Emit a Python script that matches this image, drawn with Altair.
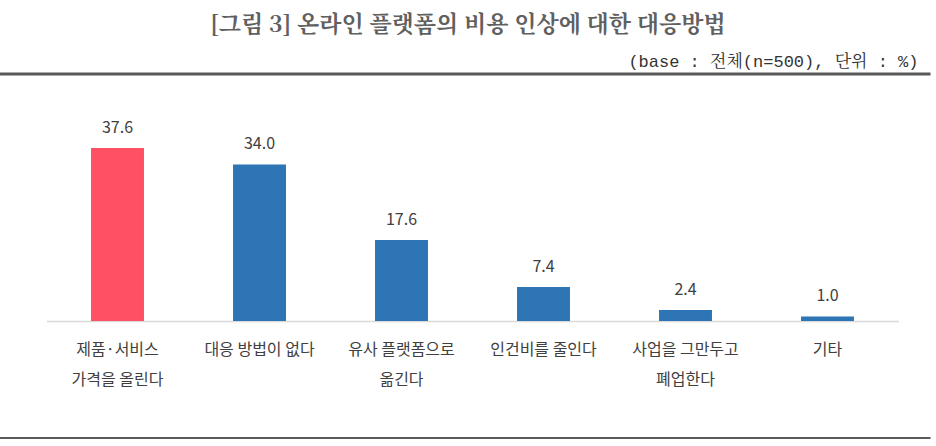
import altair as alt
import pandas as pd

categories = ["제품·서비스\n가격을 올린다", "대응 방법이 없다", "유사 플랫폼으로\n옮긴다",
              "인건비를 줄인다", "사업을 그만두고\n폐업한다", "기타"]
values = [37.6, 34.0, 17.6, 7.4, 2.4, 1.0]
highlight = [True, False, False, False, False, False]

title_text = "[그림 3] 온라인 플랫폼의 비용 인상에 대한 대응방법"
subtitle_text = "(base : 전체(n=500), 단위 : %)"

df = pd.DataFrame({"cat": categories, "val": values, "hl": highlight})

SANS = "Noto Sans CJK KR"
SERIF = "Noto Serif CJK KR, Batang, Noto Sans CJK KR"
SUB = "Liberation Mono, Noto Serif CJK KR, Noto Sans CJK KR"

x_enc = alt.X("cat:N", sort=categories,
              scale=alt.Scale(paddingInner=0.627, paddingOuter=0.3135),
              axis=alt.Axis(title=None, labelAngle=0, ticks=False,
                            domainColor="#d9d9d9", domainWidth=1.5,
                            labelExpr="split(datum.label, '\\n')",
                            labelFont=SANS, labelFontSize=16, labelColor="#404040",
                            labelLineHeight=30, labelPadding=20))
y_enc = alt.Y("val:Q", scale=alt.Scale(domain=[0, 48], nice=False), axis=None)

bars = alt.Chart(df).mark_bar().encode(
    x=x_enc, y=y_enc,
    color=alt.Color("hl:N", scale=alt.Scale(domain=[True, False], range=["#FF5064", "#2E75B6"]), legend=None),
)

labels = alt.Chart(df).mark_text(baseline="alphabetic", dy=-15, font=SANS, fontSize=16,
                                 color="#404040").encode(
    x=alt.X("cat:N", sort=categories), y="val:Q",
    text=alt.Text("val:Q", format=".1f"),
)

title = alt.Chart(pd.DataFrame({"t": [title_text]})).mark_text(
    font=SERIF, fontSize=23, fontWeight="bold", color="#606060", align="center", baseline="middle"
).encode(x=alt.value(421.5), y=alt.value(-75), text="t:N")

subtitle = alt.Chart(pd.DataFrame({"t": [subtitle_text]})).mark_text(
    font=SUB, fontSize=17, color="#333333", align="right", baseline="middle"
).encode(x=alt.value(872), y=alt.value(-38), text="t:N")

top_rule = alt.Chart(pd.DataFrame({"a": [0]})).mark_rule(color="#595959", strokeWidth=3).encode(
    x=alt.value(-46.5), x2=alt.value(884), y=alt.value(-26))
bottom_rule = alt.Chart(pd.DataFrame({"a": [0]})).mark_rule(color="#595959", strokeWidth=2).encode(
    x=alt.value(-46.5), x2=alt.value(884), y=alt.value(338))

chart = alt.layer(bars, labels, title, subtitle, top_rule, bottom_rule).properties(
    width=852, height=221,
    autosize=alt.AutoSizeParams(type="none"),
    padding={"left": 46.5, "top": 100, "right": 37.5, "bottom": 125},
).configure(background="white").configure_view(stroke=None, strokeWidth=0)

chart.save("out.html", embed_options={"renderer": "svg", "actions": False})
